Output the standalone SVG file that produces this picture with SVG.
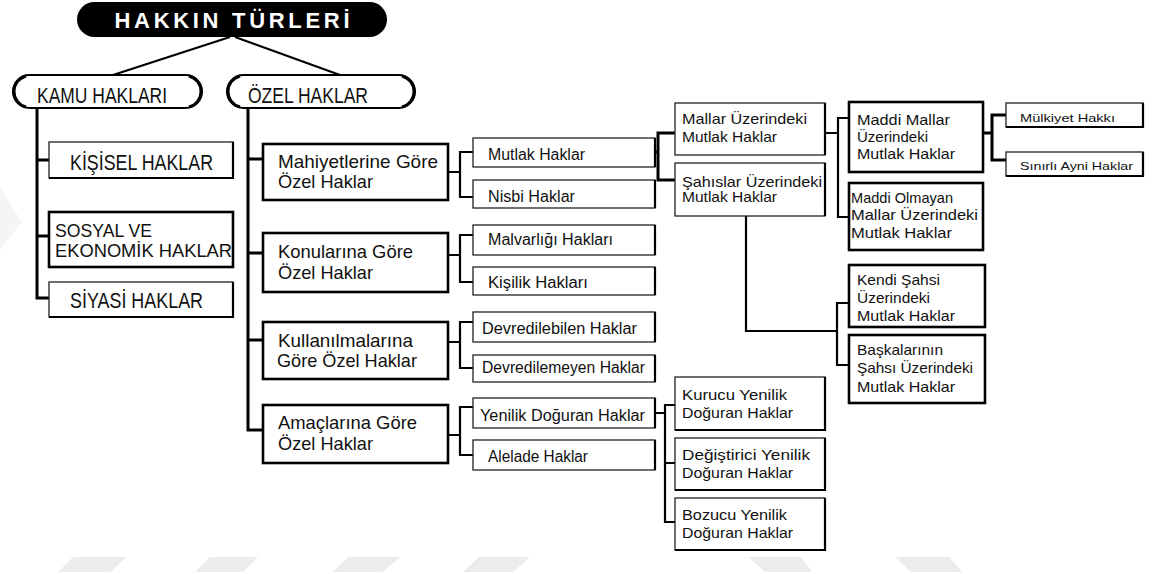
<svg xmlns="http://www.w3.org/2000/svg" width="1160" height="574" viewBox="0 0 1160 574">
<style>
text{font-family:"Liberation Sans",Arial,sans-serif;fill:#111}
.t1{font-size:22px}
.t1s{font-size:19px}
.t2{font-size:19px}
.t3{font-size:16px}
.t4{font-size:15px}
.t5{font-size:11px}
.thin{fill:#fff;stroke:#222;stroke-width:1.3}
.thick{fill:#fff;stroke:#000;stroke-width:2.6}
.sh{fill:none;stroke:#000;stroke-width:2.2}
.c{fill:none;stroke:#000;stroke-width:2.2}
.cb{fill:none;stroke:#000;stroke-width:3}
.wm{fill:#ececec}
</style>
<g id="watermark">
<polygon class="wm" points="73,557 127,557 110,572 58,572"/>
<polygon class="wm" points="210,557 258,557 243,572 195,572"/>
<polygon class="wm" points="348,557 401,557 382,572 333,572"/>
<polygon class="wm" points="479,557 530,557 513,572 463,572"/>
<polygon class="wm" points="748,557 801,557 812,572 765,572"/>
<polygon class="wm" points="895,557 949,557 962,572 911,572"/>
<polygon fill="#f5f5f5" points="0,188 22,222 0,250"/>
</g>
<g id="connectors">
<path class="c" d="M230,37 L113,75 M235,37 L340,75"/>
<path class="cb" d="M37,108 V298 H49 M37,160 H49 M37,236 H49"/>
<path class="cb" d="M248,108 V430 H263 M248,159 H263 M248,253 H263 M248,340 H263"/>
<path class="c" d="M448,172 H460 M473,152 H460 V197 H473"/>
<path class="c" d="M448,255 H460 M473,235 H460 V282 H473"/>
<path class="c" d="M448,342 H460 M473,322 H460 V368 H473"/>
<path class="c" d="M448,435 H460 M473,407 H460 V455 H473"/>
<path class="cb" d="M655,152 H658 M675,133 H658 V180 H675"/>
<path class="c" d="M825,133 H838 M849,118 H838 V217 H849"/>
<path class="cb" d="M983,133 H992 M1006,115 H992 V160 H1006"/>
<path class="c" d="M746,216 V331 H837 M848,303 H837 V365 H848"/>
<path class="c" d="M655,413 H665 M675,405 H665 V522 H675 M665,463 H675"/>
</g>
<g id="title">
<rect x="77" y="2" width="310" height="35" rx="17.5" fill="#000"/>
<text x="232" y="28" text-anchor="middle" font-weight="bold" style="fill:#fff;font-size:22px" textLength="235" lengthAdjust="spacing">HAKKIN TÜRLERİ</text>
</g>
<g id="kamu">
<rect x="13" y="75" width="189" height="33" rx="16.5" fill="#fff" stroke="#000" stroke-width="2"/>
<path class="cb" d="M26,76 A16,16 0 0 0 26,107 M189,76 A16,16 0 0 1 189,107"/>
<text class="t1" x="37" y="103" textLength="130" lengthAdjust="spacingAndGlyphs">KAMU HAKLARI</text>
</g>
<g id="ozel">
<rect x="227" y="75" width="188" height="33" rx="16.5" fill="#fff" stroke="#000" stroke-width="2"/>
<path class="cb" d="M240,76 A16,16 0 0 0 240,107 M402,76 A16,16 0 0 1 402,107"/>
<text class="t1" x="248" y="103" textLength="120" lengthAdjust="spacingAndGlyphs">ÖZEL HAKLAR</text>
</g>
<g id="kisisel">
<rect class="thin" x="49" y="142" width="184" height="36"/>
<path class="sh" d="M233,142 V178 H49"/>
<text class="t1" x="70" y="170" textLength="143" lengthAdjust="spacingAndGlyphs">KİŞİSEL HAKLAR</text>
</g>
<g id="sosyal">
<rect class="thick" x="49" y="212" width="184" height="55"/>
<text class="t1s" x="55" y="237" textLength="97" lengthAdjust="spacingAndGlyphs">SOSYAL VE</text>
<text class="t1s" x="55" y="257" textLength="177" lengthAdjust="spacingAndGlyphs">EKONOMİK HAKLAR</text>
</g>
<g id="siyasi">
<rect class="thin" x="49" y="282" width="184" height="35"/>
<path class="sh" d="M233,282 V317 H49"/>
<text class="t1" x="70" y="308" textLength="133" lengthAdjust="spacingAndGlyphs">SİYASİ HAKLAR</text>
</g>
<g id="mahiyet">
<rect class="thick" x="263" y="144" width="185" height="56"/>
<text class="t2" x="278" y="168" textLength="160" lengthAdjust="spacingAndGlyphs">Mahiyetlerine Göre</text>
<text class="t2" x="278" y="188" textLength="95" lengthAdjust="spacingAndGlyphs">Özel Haklar</text>
</g>
<g id="konu">
<rect class="thick" x="263" y="233" width="185" height="59"/>
<text class="t2" x="278" y="258" textLength="135" lengthAdjust="spacingAndGlyphs">Konularına Göre</text>
<text class="t2" x="278" y="279" textLength="95" lengthAdjust="spacingAndGlyphs">Özel Haklar</text>
</g>
<g id="kullanim">
<rect class="thick" x="263" y="322" width="185" height="57"/>
<text class="t2" x="278" y="347" textLength="135" lengthAdjust="spacingAndGlyphs">Kullanılmalarına</text>
<text class="t2" x="277" y="367" textLength="140" lengthAdjust="spacingAndGlyphs">Göre Özel Haklar</text>
</g>
<g id="amac">
<rect class="thick" x="263" y="405" width="185" height="58"/>
<text class="t2" x="278" y="429" textLength="139" lengthAdjust="spacingAndGlyphs">Amaçlarına Göre</text>
<text class="t2" x="278" y="450" textLength="95" lengthAdjust="spacingAndGlyphs">Özel Haklar</text>
</g>
<g id="mutlak">
<rect class="thin" x="473" y="138" width="182" height="29"/>
<path class="sh" d="M655,138 V167"/>
<text class="t3" x="488" y="160" textLength="97" lengthAdjust="spacingAndGlyphs">Mutlak Haklar</text>
</g>
<g id="nisbi">
<rect class="thin" x="473" y="180" width="182" height="28"/>
<path class="sh" d="M655,180 V208"/>
<text class="t3" x="488" y="202" textLength="87" lengthAdjust="spacingAndGlyphs">Nisbi Haklar</text>
</g>
<g id="malvarligi">
<rect class="thin" x="473" y="225" width="182" height="30"/>
<path class="sh" d="M655,225 V255"/>
<text class="t3" x="488" y="245" textLength="125" lengthAdjust="spacingAndGlyphs">Malvarlığı Hakları</text>
</g>
<g id="kisilik">
<rect class="thin" x="473" y="267" width="182" height="28"/>
<path class="sh" d="M655,267 V295"/>
<text class="t3" x="488" y="288" textLength="100" lengthAdjust="spacingAndGlyphs">Kişilik Hakları</text>
</g>
<g id="devredilebilen">
<rect class="thin" x="473" y="312" width="182" height="30"/>
<path class="sh" d="M655,312 V342"/>
<text class="t3" x="482" y="334" textLength="155" lengthAdjust="spacingAndGlyphs">Devredilebilen Haklar</text>
</g>
<g id="devredilemeyen">
<rect class="thin" x="473" y="355" width="182" height="27"/>
<path class="sh" d="M655,355 V382"/>
<text class="t3" x="482" y="373" textLength="163" lengthAdjust="spacingAndGlyphs">Devredilemeyen Haklar</text>
</g>
<g id="yenilik">
<rect class="thin" x="473" y="398" width="182" height="30"/>
<path class="sh" d="M655,398 V428"/>
<text class="t3" x="480" y="421" textLength="165" lengthAdjust="spacingAndGlyphs">Yenilik Doğuran Haklar</text>
</g>
<g id="alelade">
<rect class="thin" x="473" y="440" width="182" height="30"/>
<path class="sh" d="M655,440 V470"/>
<text class="t3" x="488" y="462" textLength="100" lengthAdjust="spacingAndGlyphs">Alelade Haklar</text>
</g>
<g id="mallar">
<rect class="thin" x="675" y="103" width="150" height="52"/>
<path class="sh" d="M825,103 V155"/>
<text class="t4" x="682" y="124" textLength="125" lengthAdjust="spacingAndGlyphs">Mallar Üzerindeki</text>
<text class="t4" x="682" y="142" textLength="95" lengthAdjust="spacingAndGlyphs">Mutlak Haklar</text>
</g>
<g id="sahislar">
<rect class="thin" x="675" y="163" width="150" height="53"/>
<path class="sh" d="M825,163 V216"/>
<text class="t4" x="682" y="187" textLength="140" lengthAdjust="spacingAndGlyphs">Şahıslar Üzerindeki</text>
<text class="t4" x="682" y="202" textLength="95" lengthAdjust="spacingAndGlyphs">Mutlak Haklar</text>
</g>
<g id="maddi">
<rect class="thick" x="849" y="102" width="134" height="70"/>
<text class="t4" x="857" y="125" textLength="93" lengthAdjust="spacingAndGlyphs">Maddi Mallar</text>
<text class="t4" x="857" y="142" textLength="71" lengthAdjust="spacingAndGlyphs">Üzerindeki</text>
<text class="t4" x="857" y="159" textLength="98" lengthAdjust="spacingAndGlyphs">Mutlak Haklar</text>
</g>
<g id="maddiolmayan">
<rect class="thick" x="849" y="183" width="134" height="67"/>
<text class="t4" x="851" y="203" textLength="102" lengthAdjust="spacingAndGlyphs">Maddi Olmayan</text>
<text class="t4" x="851" y="220" textLength="127" lengthAdjust="spacingAndGlyphs">Mallar Üzerindeki</text>
<text class="t4" x="851" y="238" textLength="101" lengthAdjust="spacingAndGlyphs">Mutlak Haklar</text>
</g>
<g id="mulkiyet">
<rect class="thin" x="1006" y="103" width="137" height="24"/>
<path class="sh" d="M1143,103 V127 H1006"/>
<text class="t5" x="1020" y="122" textLength="95" lengthAdjust="spacingAndGlyphs">Mülkiyet Hakkı</text>
</g>
<g id="sinirli">
<rect class="thin" x="1006" y="152" width="137" height="24"/>
<path class="sh" d="M1143,152 V176 H1006"/>
<text class="t5" x="1020" y="170" textLength="113" lengthAdjust="spacingAndGlyphs">Sınırlı Ayni Haklar</text>
</g>
<g id="kendi">
<rect class="thick" x="849" y="265" width="136" height="62"/>
<text class="t4" x="857" y="285" textLength="83" lengthAdjust="spacingAndGlyphs">Kendi Şahsi</text>
<text class="t4" x="857" y="303" textLength="73" lengthAdjust="spacingAndGlyphs">Üzerindeki</text>
<text class="t4" x="857" y="321" textLength="98" lengthAdjust="spacingAndGlyphs">Mutlak Haklar</text>
</g>
<g id="baskalari">
<rect class="thick" x="849" y="335" width="136" height="68"/>
<text class="t4" x="857" y="355" textLength="86" lengthAdjust="spacingAndGlyphs">Başkalarının</text>
<text class="t4" x="857" y="373" textLength="116" lengthAdjust="spacingAndGlyphs">Şahsı Üzerindeki</text>
<text class="t4" x="857" y="392" textLength="98" lengthAdjust="spacingAndGlyphs">Mutlak Haklar</text>
</g>
<g id="kurucu">
<rect class="thin" x="675" y="377" width="150" height="53"/>
<path class="sh" d="M825,377 V430 H675"/>
<text class="t4" x="682" y="400" textLength="105" lengthAdjust="spacingAndGlyphs">Kurucu Yenilik</text>
<text class="t4" x="682" y="418" textLength="111" lengthAdjust="spacingAndGlyphs">Doğuran Haklar</text>
</g>
<g id="degistirici">
<rect class="thin" x="675" y="438" width="150" height="52"/>
<path class="sh" d="M825,438 V490 H675"/>
<text class="t4" x="682" y="460" textLength="128" lengthAdjust="spacingAndGlyphs">Değiştirici Yenilik</text>
<text class="t4" x="682" y="478" textLength="111" lengthAdjust="spacingAndGlyphs">Doğuran Haklar</text>
</g>
<g id="bozucu">
<rect class="thin" x="675" y="498" width="150" height="52"/>
<path class="sh" d="M825,498 V550 H675"/>
<text class="t4" x="682" y="520" textLength="105" lengthAdjust="spacingAndGlyphs">Bozucu Yenilik</text>
<text class="t4" x="682" y="538" textLength="111" lengthAdjust="spacingAndGlyphs">Doğuran Haklar</text>
</g>
</svg>
